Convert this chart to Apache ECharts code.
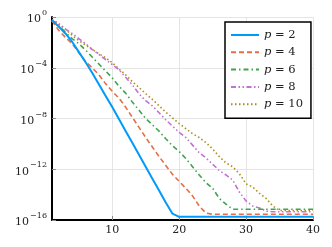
<!DOCTYPE html>
<html>
<head>
<meta charset="utf-8">
<script src="https://cdn.jsdelivr.net/npm/echarts@6/dist/echarts.min.js"></script>
<style>
html,body{margin:0;padding:0;background:#fff;}
#chart{width:332px;height:247px;}
</style>
</head>
<body>
<div id="chart"></div>
<script>
// iteration number
const iterations = [1,2,3,4,5,6,7,8,9,10,11,12,13,14,15,16,17,18,19,20,21,22,23,24,25,26,27,28,29,30,31,32,33,34,35,36,37,38,39,40];
// log10 of error for each p
const log10Err_p2 = [-0.25,-0.75,-1.3,-1.95,-2.75,-3.55,-4.4,-5.3,-6.2,-7.1,-8.04,-8.98,-9.92,-10.86,-11.8,-12.74,-13.68,-14.62,-15.5,-15.75,-15.75,-15.75,-15.75,-15.75,-15.75,-15.75,-15.75,-15.75,-15.75,-15.75,-15.75,-15.75,-15.75,-15.75,-15.75,-15.75,-15.75,-15.75,-15.75,-15.75];
const log10Err_p4 = [-0.3,-1.05,-1.6,-2.1,-2.8,-3.5,-4.0,-4.55,-5.25,-5.85,-6.4,-7.1,-7.9,-8.7,-9.5,-10.25,-11.0,-11.7,-12.4,-12.95,-13.5,-14.1,-14.9,-15.45,-15.55,-15.55,-15.55,-15.55,-15.55,-15.55,-15.55,-15.55,-15.55,-15.55,-15.55,-15.55,-15.55,-15.55,-15.55,-15.55];
const log10Err_p6 = [-0.3,-0.7,-1.2,-1.7,-2.1,-2.6,-3.15,-3.7,-4.25,-4.8,-5.45,-6.0,-6.7,-7.35,-8.0,-8.5,-9.0,-9.6,-10.15,-10.6,-11.15,-11.8,-12.45,-13.05,-13.5,-14.3,-14.75,-15.15,-15.15,-15.15,-15.15,-15.15,-15.15,-15.15,-15.15,-15.15,-15.15,-15.15,-15.15,-15.15];
const log10Err_p8 = [-0.25,-0.6,-0.95,-1.3,-1.7,-2.1,-2.55,-2.95,-3.35,-3.75,-4.15,-4.75,-5.35,-6.05,-6.6,-7.0,-7.55,-8.1,-8.6,-9.1,-9.5,-10.1,-10.7,-11.1,-11.6,-12.1,-12.45,-12.85,-13.8,-14.5,-14.9,-15.05,-15.3,-15.35,-15.35,-15.35,-15.35,-15.35,-15.35,-15.35];
const log10Err_p10 = [-0.2,-0.5,-0.95,-1.45,-1.85,-2.2,-2.55,-2.9,-3.2,-3.6,-4.1,-4.55,-5.1,-5.55,-6.05,-6.5,-7.0,-7.5,-7.95,-8.4,-8.8,-9.2,-9.5,-9.9,-10.4,-11.0,-11.5,-11.8,-12.35,-13.15,-13.4,-13.9,-14.3,-14.9,-15.25,-15.25,-15.25,-15.25,-15.25,-15.25];
const seriesNames = ['p = 2','p = 4','p = 6','p = 8','p = 10'];
const xTicks = [10,20,30,40];

const serif = '"DejaVu Serif", "Liberation Serif", serif';
const pairs = a => iterations.map((x,i)=>[x,a[i]]);
const styles = [
  {color:'#009AFA', width:2, type:'solid'},
  {color:'#E36F47', width:1.6, type:[5,3]},
  {color:'#3EA44E', width:1.6, type:[5,3,1.5,3]},
  {color:'#C371D2', width:1.6, type:[5,2.5,1.5,2.5,1.5,2.5]},
  {color:'#AC8E18', width:1.6, type:[1.5,2.5]}
];
const all = [log10Err_p2,log10Err_p4,log10Err_p6,log10Err_p8,log10Err_p10];

const chart = echarts.init(document.getElementById('chart'), null, {renderer:'canvas'});
chart.setOption({
  animation:false,
  backgroundColor:'#fff',
  grid:{left:52,right:19,top:17,bottom:27,containLabel:false},
  xAxis:{
    type:'value', min:1, max:40,
    axisLine:{onZero:false, lineStyle:{color:'#000', width:2}},
    axisTick:{inside:true, length:4, customValues:xTicks, lineStyle:{color:'#888', width:1}},
    axisLabel:{customValues:xTicks, fontFamily:serif, fontSize:11, color:'#222', margin:5},
    splitLine:{show:true, lineStyle:{color:'#e5e5e5', width:1}}
  },
  yAxis:{
    type:'value', min:-16, max:0, interval:4,
    axisLine:{show:true, lineStyle:{color:'#000', width:2}},
    axisTick:{show:true, inside:true, length:4, lineStyle:{color:'#888', width:1}},
    axisLabel:{
      fontFamily:serif, color:'#222', margin:5,
      formatter: v => '{b|10}{s|' + (v===0 ? '0' : '\u2212' + (-v)) + '}',
      rich:{
        b:{fontFamily:serif, fontSize:11, color:'#222', lineHeight:16, verticalAlign:'bottom'},
        s:{fontFamily:serif, fontSize:8, color:'#222', lineHeight:16, verticalAlign:'top', padding:[0,0,0,1]}
      }
    },
    splitLine:{show:true, lineStyle:{color:'#e5e5e5', width:1}}
  },
  legend:{
    orient:'vertical', left:225, top:22, width:70,
    itemStyle:{opacity:0},
    backgroundColor:'#fff', borderColor:'#000', borderWidth:1.5, borderRadius:0,
    padding:[7,8,8,5], itemWidth:28, itemHeight:12, itemGap:5.3,
    textStyle:{fontFamily:serif, fontSize:11.5, color:'#222',
      rich:{i:{fontFamily:serif, fontStyle:'italic', fontSize:11.5, color:'#222'}}},
    formatter: n => '{i|p}' + n.slice(1),
    data: seriesNames
  },
  series: all.map((a,i)=>({
    name:seriesNames[i], type:'line', data:pairs(a),
    symbol:'none', showSymbol:false,
    lineStyle:{color:styles[i].color, width:styles[i].width, type:styles[i].type},
    itemStyle:{color:styles[i].color},
    z: 10 - i
  }))
});
</script>
</body>
</html>
